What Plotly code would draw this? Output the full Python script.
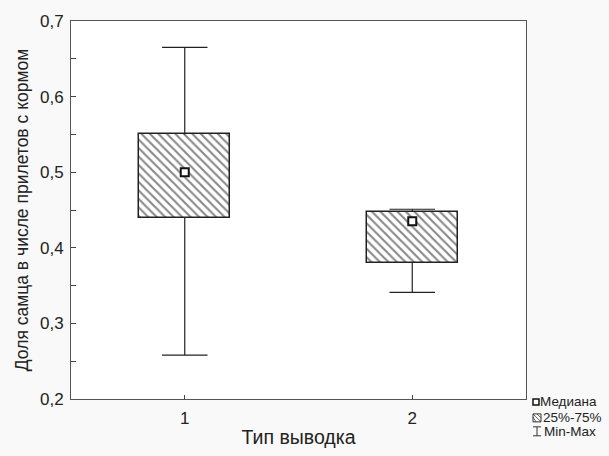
import plotly.graph_objects as go

categories = [1, 2]
q1 = [0.44, 0.38]
q3 = [0.55, 0.448]
medians = [0.50, 0.435]
mins = [0.258, 0.341]
maxs = [0.665, 0.451]
y_ticks = [0.2, 0.3, 0.4, 0.5, 0.6, 0.7]
legend_labels = ["Медиана", "25%-75%", "Min-Max"]

BOX_HALF = 0.2
CAP_HALF = 0.1
FONT = "Liberation Sans"

fig = go.Figure()

# boxes (25%-75%)
fig.add_trace(go.Bar(
    x=categories, base=q1, y=[b - a for a, b in zip(q1, q3)], width=2 * BOX_HALF,
    marker=dict(color="white", line=dict(color="#222", width=1.5),
                pattern=dict(shape="\\", size=6, solidity=0.35, fgcolor="#111", bgcolor="white")),
    showlegend=False, hoverinfo="skip"))

# whiskers
wx, wy = [], []
for c, lo, hi, a, b in zip(categories, mins, maxs, q1, q3):
    wx += [c, c, None, c, c, None, c - CAP_HALF, c + CAP_HALF, None, c - CAP_HALF, c + CAP_HALF, None]
    wy += [b, hi, None, a, lo, None, hi, hi, None, lo, lo, None]
fig.add_trace(go.Scatter(x=wx, y=wy, mode="lines", line=dict(color="#222", width=1.2),
                         showlegend=False, hoverinfo="skip"))

# medians
fig.add_trace(go.Scatter(x=categories, y=medians, mode="markers",
                         marker=dict(symbol="square", size=8, color="white",
                                     line=dict(color="#111", width=2)),
                         showlegend=False))

# pixel -> paper conversion for the manual legend
L, R, T, B = 71, 526, 19, 399
def px(x):
    return (x - L) / (R - L)
def py(y):
    return (B - y) / (B - T)

shapes = []
# median symbol
shapes.append(dict(type="rect", xref="paper", yref="paper", x0=px(533), x1=px(539), y0=py(405), y1=py(399),
                   line=dict(color="#111", width=1.5), fillcolor="white"))
# hatched symbol
shapes.append(dict(type="rect", xref="paper", yref="paper", x0=px(533), x1=px(541), y0=py(422), y1=py(414),
                   line=dict(color="#333", width=1), fillcolor="white"))
for d in [(533, 417, 536, 422), (533, 414, 541, 422), (537, 414, 541, 418)]:
    shapes.append(dict(type="line", xref="paper", yref="paper", x0=px(d[0]), y0=py(d[1]), x1=px(d[2]), y1=py(d[3]),
                       line=dict(color="#333", width=0.8)))
# min-max symbol
for d in [(537, 427, 537, 436), (533, 427, 541, 427), (533, 436, 541, 436)]:
    shapes.append(dict(type="line", xref="paper", yref="paper", x0=px(d[0]), y0=py(d[1]), x1=px(d[2]), y1=py(d[3]),
                       line=dict(color="#333", width=1)))

annotations = []
for lab, xx, yy in zip(legend_labels, [538, 541, 542], [402, 418, 432]):
    annotations.append(dict(text=lab, xref="paper", yref="paper", x=px(xx), y=py(yy),
                            xanchor="left", yanchor="middle", showarrow=False,
                            font=dict(size=13.5, color="#222", family=FONT)))

fig.update_layout(
    width=609, height=456,
    margin=dict(l=L, r=609 - R, t=T, b=456 - B),
    paper_bgcolor="#f9f9f9", plot_bgcolor="white",
    separators=", ",
    font=dict(family=FONT, color="#222"),
    bargap=0,
    shapes=shapes, annotations=annotations,
    xaxis=dict(range=[0.5, 2.5], tickvals=categories, ticktext=[str(c) for c in categories],
               ticks="inside", ticklen=4, tickcolor="#444", showgrid=False, zeroline=False,
               showline=True, mirror=True, linecolor="#555", linewidth=1, ticklabelstandoff=4,
               tickfont=dict(size=17, family=FONT),
               title=dict(text="Тип выводка", font=dict(size=19.5, family=FONT), standoff=2)),
    yaxis=dict(range=[0.2, 0.7], tickvals=y_ticks, tickformat=".1f",
               ticks="inside", ticklen=5, tickcolor="#444", showgrid=False, zeroline=False,
               showline=True, mirror=True, linecolor="#555", linewidth=1, ticklabelstandoff=3,
               minor=dict(dtick=0.05, ticks="inside", ticklen=5, tickcolor="#444"),
               tickfont=dict(size=17, family=FONT),
               title=dict(text="Доля самца в числе прилетов с кормом", font=dict(size=17.5, family=FONT), standoff=6)),
)

fig.write_html("out.html")
